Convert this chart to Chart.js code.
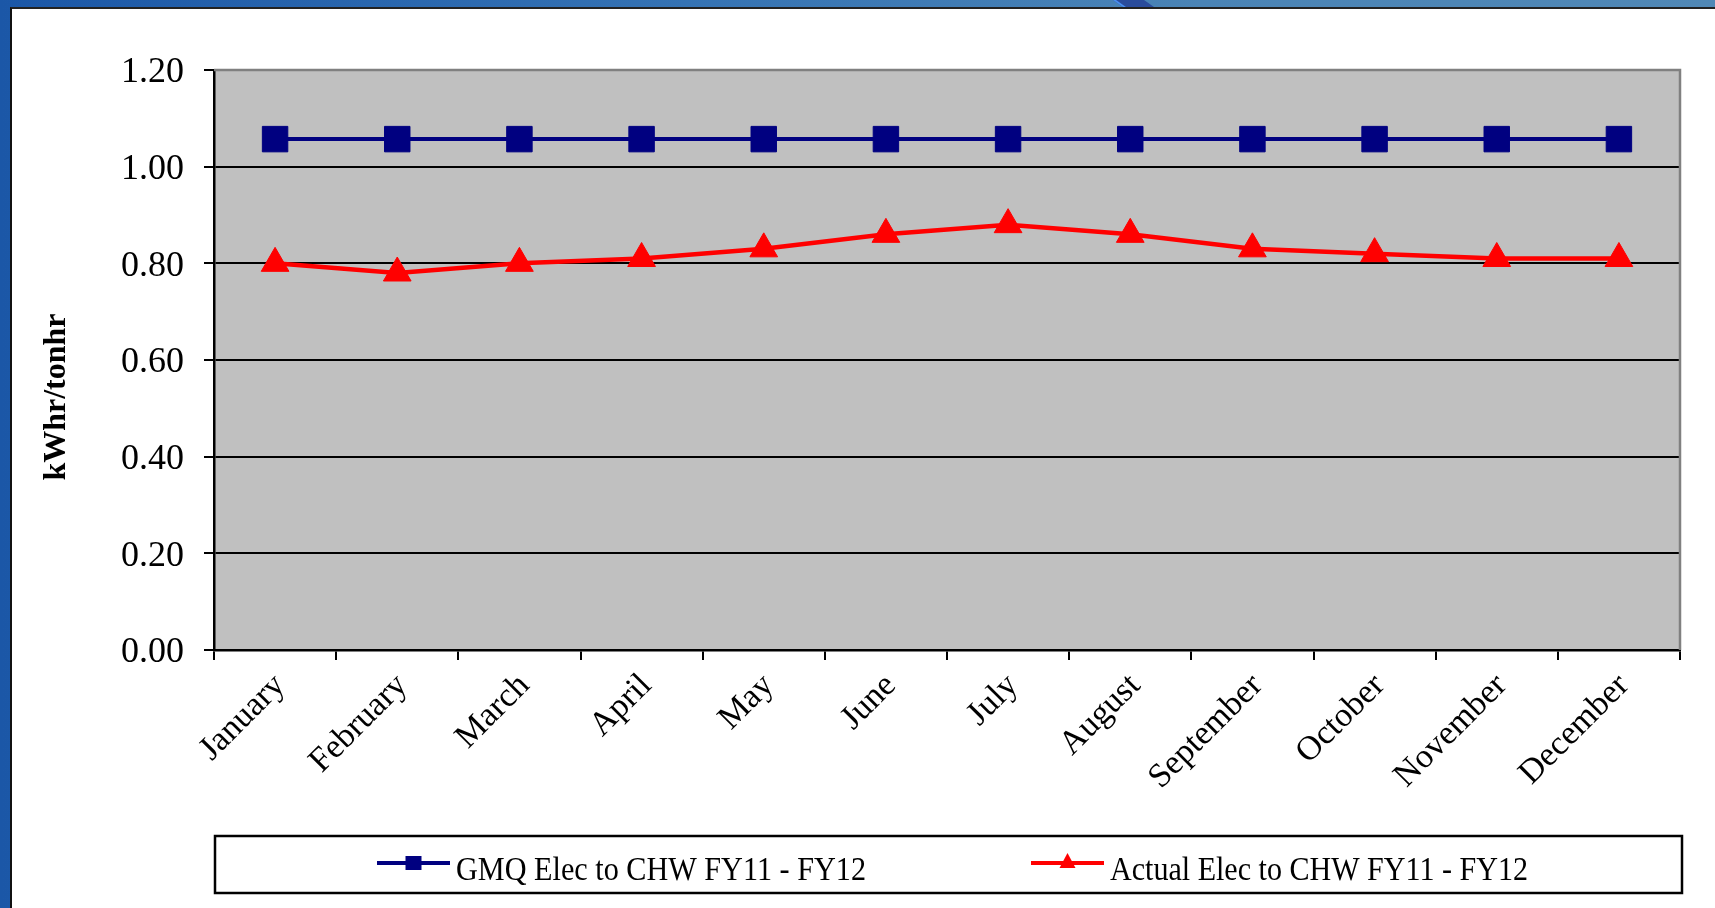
<!DOCTYPE html>
<html>
<head>
<meta charset="utf-8">
<title>kWhr/tonhr</title>
<script src="https://cdn.jsdelivr.net/npm/chart.js@4.4.0/dist/chart.umd.min.js"></script>
<style>
  html, body { margin: 0; padding: 0; width: 1715px; height: 908px; overflow: hidden; }
  body {
    position: relative;
    background: linear-gradient(to right, #1b57a7 0%, #3573b4 40%, #4a84b6 70%, #5088b6 100%);
  }
  #stripe {
    position: absolute; left: 1113px; top: 0; width: 28px; height: 8px;
    background: #2a4c9c; border-left: 3px solid #4a8ff0;
    transform: skewX(55deg); transform-origin: 0 0;
  }
  #panel {
    position: absolute; left: 10px; top: 7px; right: 0; bottom: 0;
    background: #fff; border-left: 2px solid #111; border-top: 2px solid #222;
  }
  #wrap { position: absolute; left: 0; top: 0; width: 1715px; height: 908px; }
</style>
</head>
<body>
<div id="stripe"></div>
<div id="panel"></div>
<div id="wrap"><canvas id="chart" width="1715" height="908"></canvas></div>

<script>
// data
const months = ["January", "February", "March", "April", "May", "June",
  "July", "August", "September", "October", "November", "December"]
const gmqValues = [1.057, 1.057, 1.057, 1.057, 1.057, 1.057, 1.057, 1.057, 1.057, 1.057, 1.057, 1.057]
const actualValues = [0.80, 0.78, 0.80, 0.81, 0.83, 0.86, 0.88, 0.86, 0.83, 0.82, 0.81, 0.81]
const seriesNames = ["GMQ Elec to CHW FY11 - FY12", "Actual Elec to CHW FY11 - FY12"]
const yTitle = "kWhr/tonhr"
const yMin = 0
const yMax = 1.2
const yStep = 0.2

const SERIF = '"Liberation Serif", "Times New Roman", serif'
const NAVY = "#000080"
const RED = "#ff0000"

// gray plot area + gray top/right border like Excel
const plotArea = {
  id: "plotArea",
  beforeDraw(chart) {
    const { ctx, chartArea: a } = chart
    ctx.save()
    ctx.fillStyle = "#c0c0c0"
    ctx.fillRect(a.left, a.top, a.right - a.left, a.bottom - a.top)
    ctx.restore()
  },
  beforeDatasetsDraw(chart) {
    const { ctx, chartArea: a } = chart
    ctx.save()
    ctx.strokeStyle = "#808080"
    ctx.lineWidth = 2.5
    ctx.beginPath()
    ctx.moveTo(a.left, a.top)
    ctx.lineTo(a.right, a.top)
    ctx.lineTo(a.right, a.bottom)
    ctx.stroke()
    ctx.restore()
  },
}

// rotated axis title, sits a bit below the axis middle in the original
const axisTitle = {
  id: "axisTitle",
  afterDraw(chart) {
    const { ctx } = chart
    ctx.save()
    ctx.translate(57, 397)
    ctx.rotate(-Math.PI / 2)
    ctx.font = "bold 32px " + SERIF
    ctx.fillStyle = "#000"
    ctx.textAlign = "center"
    ctx.textBaseline = "middle"
    ctx.fillText(yTitle, 0, 0)
    ctx.restore()
  },
}

// boxed legend with line + marker samples
const boxLegend = {
  id: "boxLegend",
  afterDraw(chart) {
    const { ctx, chartArea: a } = chart
    const top = 836
    const bottom = 893
    const lineY = 863
    ctx.save()
    ctx.strokeStyle = "#000"
    ctx.lineWidth = 2.5
    ctx.strokeRect(a.left + 1, top, a.right - a.left + 1, bottom - top)

    const starts = [377, 1031]
    const textWidths = [410, 418] // text is a bit condensed in the original
    chart.data.datasets.forEach((ds, i) => {
      const x0 = starts[i]
      const x1 = x0 + 73
      const mid = (x0 + x1) / 2
      ctx.strokeStyle = ds.borderColor
      ctx.lineWidth = 4
      ctx.beginPath()
      ctx.moveTo(x0, lineY)
      ctx.lineTo(x1, lineY)
      ctx.stroke()
      ctx.fillStyle = ds.pointBackgroundColor
      ctx.beginPath()
      if (ds.pointStyle === "rect") {
        ctx.rect(mid - 8, lineY - 7, 16, 14)
      } else {
        ctx.moveTo(mid, lineY - 10)
        ctx.lineTo(mid + 8, lineY + 5)
        ctx.lineTo(mid - 8, lineY + 5)
        ctx.closePath()
      }
      ctx.fill()
      ctx.fillStyle = "#000"
      ctx.font = "33px " + SERIF
      ctx.textAlign = "left"
      ctx.textBaseline = "alphabetic"
      ctx.fillText(ds.label, x1 + 6, 880, textWidths[i])
    })
    ctx.restore()
  },
}

const ctx = document.getElementById("chart").getContext("2d")
new Chart(ctx, {
  type: "line",
  data: {
    labels: months,
    datasets: [
      {
        label: seriesNames[0],
        data: gmqValues,
        borderColor: NAVY,
        borderWidth: 4,
        pointStyle: "rect",
        pointRadius: 18,
        pointBackgroundColor: NAVY,
        pointBorderColor: NAVY,
        pointBorderWidth: 1,
        tension: 0,
      },
      {
        label: seriesNames[1],
        data: actualValues,
        borderColor: RED,
        borderWidth: 4.5,
        pointStyle: "triangle",
        pointRadius: 16,
        pointBackgroundColor: RED,
        pointBorderColor: RED,
        pointBorderWidth: 1,
        tension: 0,
      },
    ],
  },
  options: {
    responsive: false,
    animation: false,
    devicePixelRatio: 1,
    layout: { padding: { left: 0, top: 70, right: 35, bottom: 78 } },
    plugins: {
      legend: { display: false },
      tooltip: { enabled: false },
    },
    scales: {
      x: {
        type: "category",
        offset: true,
        afterFit(scale) { scale.height = 180 },
        grid: {
          offset: true,
          drawOnChartArea: false,
          color: "#000",
          lineWidth: 2,
          tickLength: 10,
        },
        border: { color: "#000", width: 2.5 },
        ticks: {
          minRotation: 45,
          maxRotation: 45,
          autoSkip: false,
          padding: 6,
          labelOffset: 5,
          color: "#000",
          font: { family: SERIF, size: 34 },
        },
      },
      y: {
        min: yMin,
        max: yMax,
        afterFit(scale) { scale.width = 214 },
        grid: {
          color: (c) => (c.tick && Math.abs(c.tick.value - yMax) < 1e-6 ? "#808080" : "#000"),
          tickColor: "#000",
          lineWidth: 2,
          tickLength: 10,
        },
        border: { color: "#000", width: 2.5 },
        ticks: {
          stepSize: yStep,
          padding: 20,
          labelOffset: 3,
          color: "#000",
          font: { family: SERIF, size: 36 },
          callback: (v) => Number(v).toFixed(2),
        },
      },
    },
  },
  plugins: [plotArea, axisTitle, boxLegend],
})
</script>
</body>
</html>
